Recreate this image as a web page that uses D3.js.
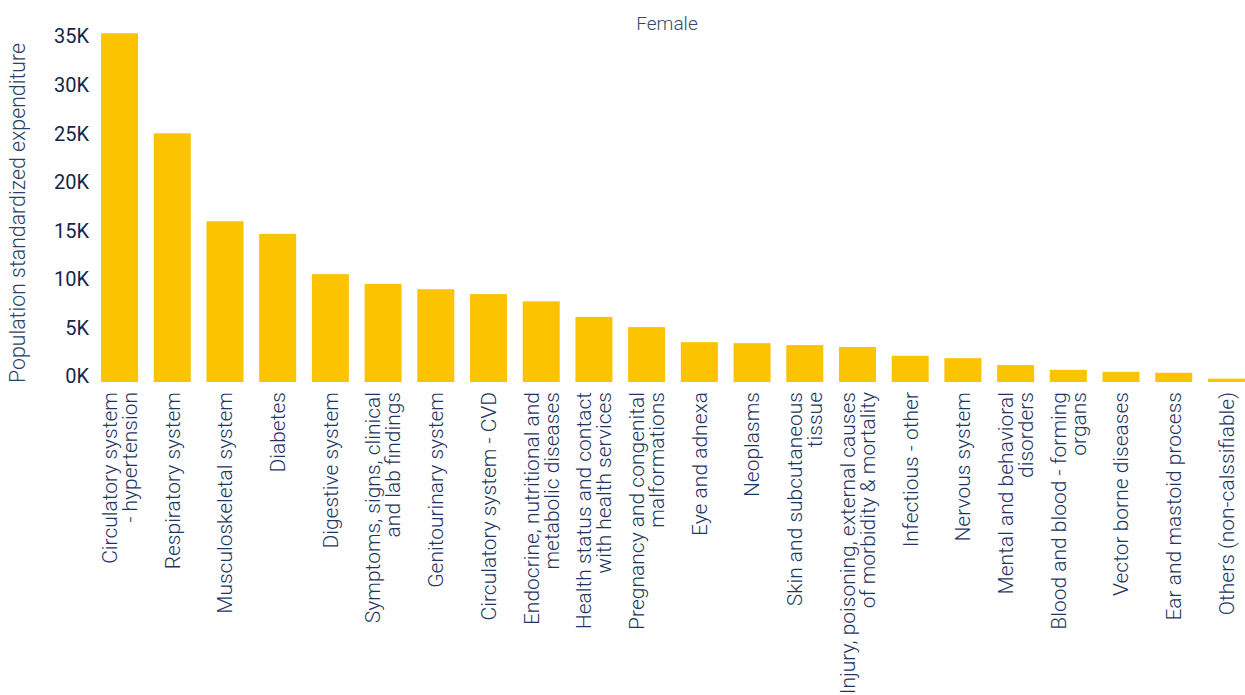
<!DOCTYPE html>
<html>
<head>
<meta charset="utf-8">
<script src="https://cdn.jsdelivr.net/npm/d3@7"></script>
<style>
  html, body { margin: 0; padding: 0; background: #fff; }
  svg { display: block; font-family: Roboto, "Noto Sans", sans-serif; }
</style>
</head>
<body>
<svg id="chart" width="1245" height="695"></svg>
<script>
const categories = [
  ["Circulatory system", "- hypertension"],
  ["Respiratory system"],
  ["Musculoskeletal system"],
  ["Diabetes"],
  ["Digestive system"],
  ["Symptoms, signs, clinical", "and lab findings"],
  ["Genitourinary system"],
  ["Circulatory system - CVD"],
  ["Endocrine, nutritional and", "metabolic diseases"],
  ["Health status and contact", "with health services"],
  ["Pregnancy and congenital", "malformations"],
  ["Eye and adnexa"],
  ["Neoplasms"],
  ["Skin and subcutaneous", "tissue"],
  ["Injury, poisoning, external causes", "of morbidity & mortality"],
  ["Infectious - other"],
  ["Nervous system"],
  ["Mental and behavioral", "disorders"],
  ["Blood and blood - forming", "organs"],
  ["Vector borne diseases"],
  ["Ear and mastoid process"],
  ["Others (non-calssifiable)"]
];
const values = [35900, 25600, 16550, 15250, 11100, 10100, 9550, 9050, 8300, 6700, 5650,
  4100, 4000, 3800, 3600, 2700, 2450, 1750, 1250, 1050, 950, 350];
const yTicks = [0, 5000, 10000, 15000, 20000, 25000, 30000, 35000];
const chartTitle = "Female";
const yTitle = "Population standardized expenditure";

const svg = d3.select("#chart");
const keys = categories.map((c, i) => i);

const x = d3.scaleBand().domain(keys).range([93.2, 1252.8]).paddingInner(0.298).paddingOuter(0.149);
const y = d3.scaleLinear().domain([0, 35000]).range([382, 42]);

// bars
svg.append("g").selectAll("rect").data(values).join("rect")
  .attr("x", (d, i) => x(i))
  .attr("width", x.bandwidth())
  .attr("y", d => y(d))
  .attr("height", d => y(0) - y(d))
  .attr("fill", "#FBC300");

// y axis
const yAxis = d3.axisLeft(y).tickValues(yTicks).tickFormat(d => (d / 1000) + "K").tickSize(0).tickPadding(0);
const gy = svg.append("g").attr("transform", "translate(89,0)").call(yAxis);
gy.select(".domain").remove();
gy.selectAll("text")
  .attr("font-size", 20)
  .attr("font-family", "Roboto, sans-serif")
  .attr("fill", "#13284a")
  .attr("dy", "0.32em")
  .attr("y", -5.5);

// y title
svg.append("text")
  .attr("transform", "translate(25,213) rotate(-90)")
  .attr("text-anchor", "middle")
  .attr("font-size", 21.3)
  .attr("font-weight", 300)
  .attr("fill", "#2b3f63")
  .text(yTitle);

// chart title
svg.append("text")
  .attr("x", 667).attr("y", 30)
  .attr("text-anchor", "middle")
  .attr("font-size", 19)
  .attr("font-weight", 300)
  .attr("fill", "#34496e")
  .text(chartTitle);

// x axis labels
const lh = 20;
const gx = svg.append("g");
categories.forEach((lines, i) => {
  const cx = x(i) + x.bandwidth() / 2;
  const n = lines.length;
  const t = gx.append("text")
    .attr("transform", `translate(${cx},392) rotate(-90)`)
    .attr("text-anchor", "end")
    .attr("font-size", 21)
    .attr("font-weight", 300)
    .attr("fill", "#1d3561");
  lines.forEach((ln, j) => {
    t.append("tspan")
      .attr("x", 0)
      .attr("y", (j - (n - 1) / 2) * lh)
      .attr("dy", "0.35em")
      .text(ln);
  });
});
</script>
</body>
</html>
